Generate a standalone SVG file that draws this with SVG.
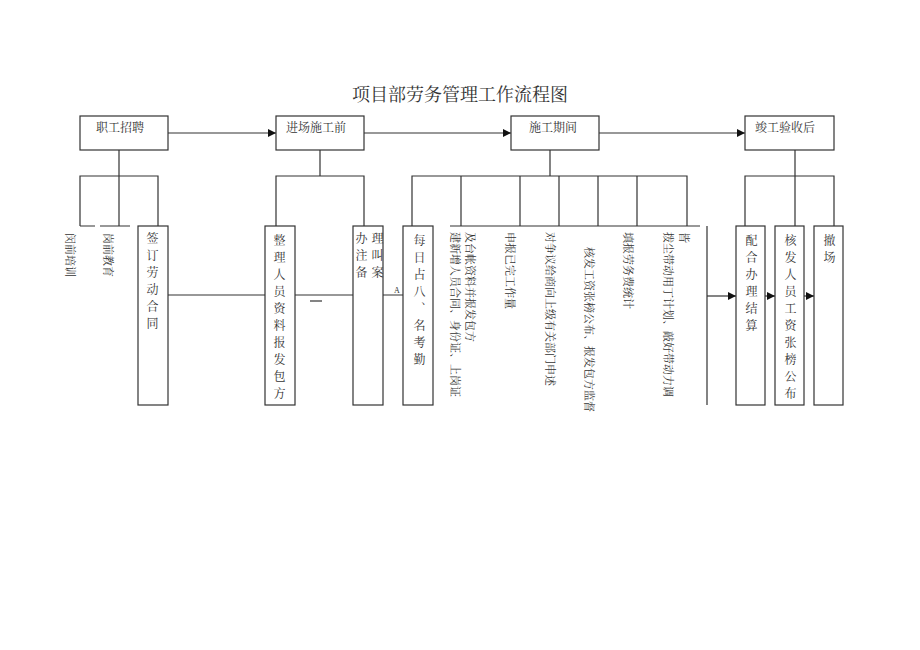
<svg xmlns="http://www.w3.org/2000/svg" width="920" height="650" viewBox="0 0 920 650">
<style>
text{font-family:"Liberation Serif","Noto Serif CJK SC","Noto Sans CJK SC",serif;fill:#333}
.b{fill:#fff;stroke:#333;stroke-width:1.2}
.l{stroke:#333;stroke-width:1.2;fill:none}
.t{font-size:12px}
.v{font-size:12px;writing-mode:vertical-rl;letter-spacing:5px}
.r{font-size:11px}
</style>
<defs><marker id="a" markerWidth="8" markerHeight="8" refX="8" refY="4" orient="auto" markerUnits="userSpaceOnUse"><path d="M0,0L8,4L0,8z" fill="#111"/></marker></defs>
<rect width="920" height="650" fill="#fff"/>
<text x="460" y="101" text-anchor="middle" style="font-size:18px">项目部劳务管理工作流程图</text>
<g id="connectors" class="l">
<path d="M168,133H276" marker-end="url(#a)"/><path d="M364,133H511" marker-end="url(#a)"/><path d="M599,133H745" marker-end="url(#a)"/>
<path d="M119,150V226M80,226V176H158V226M80,226H95M100,226H130"/>
<path d="M320,150V176M276,226V176H364V226"/>
<path d="M550,150V176M412,226V176H687V226M461,176V226M520,176V226M559,176V226M598,176V226M637,176V226"/>
<path d="M795,150V226M745,226V176H834V226"/>
<path d="M168,295H265M295,295H353M383,295H403"/>
<path d="M310,301H322"/>
<path d="M707,296H736" marker-end="url(#a)"/><path d="M765,296H775" marker-end="url(#a)"/><path d="M804,296H814" marker-end="url(#a)"/>
<path d="M450,226H700M707,226V405"/>
</g>
<text x="397" y="293" class="r" text-anchor="middle" style="font-size:8px">A</text>
<g id="n1"><rect class="b" x="80" y="116" width="88" height="34"/><text class="t" x="120" y="132" text-anchor="middle">职工招聘</text></g>
<g id="n2"><rect class="b" x="276" y="116" width="88" height="34"/><text class="t" x="316" y="132" text-anchor="middle">进场施工前</text></g>
<g id="n3"><rect class="b" x="511" y="116" width="88" height="34"/><text class="t" x="553" y="132" text-anchor="middle">施工期间</text></g>
<g id="n4"><rect class="b" x="745" y="116" width="89" height="34"/><text class="t" x="785" y="132" text-anchor="middle">竣工验收后</text></g>
<g id="c1"><text class="r" transform="translate(66,233) rotate(90)">闵前培训</text></g>
<g id="c2"><text class="r" transform="translate(104,233) rotate(90)">岗前教育</text></g>
<g id="c3"><rect class="b" x="138" y="226" width="30" height="179"/><text class="v" x="151" y="232">签订劳动合同</text></g>
<g id="c4"><rect class="b" x="265" y="226" width="30" height="179"/><text class="v" x="278" y="234">整理人员资料报发包方</text></g>
<g id="c5"><rect class="b" x="353" y="226" width="30" height="179"/><text class="v" x="360" y="232">办注备</text><text class="v" x="376" y="232">理叫案</text></g>
<g id="c6"><rect class="b" x="403" y="226" width="30" height="179"/><text class="v" x="418" y="234">每日占八、名考勤</text></g>
<g id="c7"><text class="r" transform="translate(466,232) rotate(90)">及台帐资料并报发包方</text><text class="r" transform="translate(451,232) rotate(90)">建新增人员合同、身份证、上岗证</text></g>
<g id="c8"><text class="r" transform="translate(506,232) rotate(90)">申报已完工作量</text></g>
<g id="c9"><text class="r" transform="translate(546,232) rotate(90)">对争议给商向上级有关部门申述</text></g>
<g id="c10"><text class="r" transform="translate(585,247) rotate(90)">核发工资张榜公布、报发包方监督</text></g>
<g id="c11"><text class="r" transform="translate(624,232) rotate(90)">填报劳务费统计</text></g>
<g id="c12"><text class="r" transform="translate(680,232) rotate(90)">皆</text><text class="r" transform="translate(664,232) rotate(90)">拨尘带动用丁计划、敲好带动力调</text></g>
<g id="c13"><rect class="b" x="736" y="226" width="29" height="179"/><text class="v" x="750" y="234">配合办理结算</text></g>
<g id="c14"><rect class="b" x="775" y="226" width="29" height="179"/><text class="v" x="789" y="234">核发人员工资张榜公布</text></g>
<g id="c15"><rect class="b" x="814" y="226" width="29" height="179"/><text class="v" x="828" y="234">撤场</text></g>
</svg>
